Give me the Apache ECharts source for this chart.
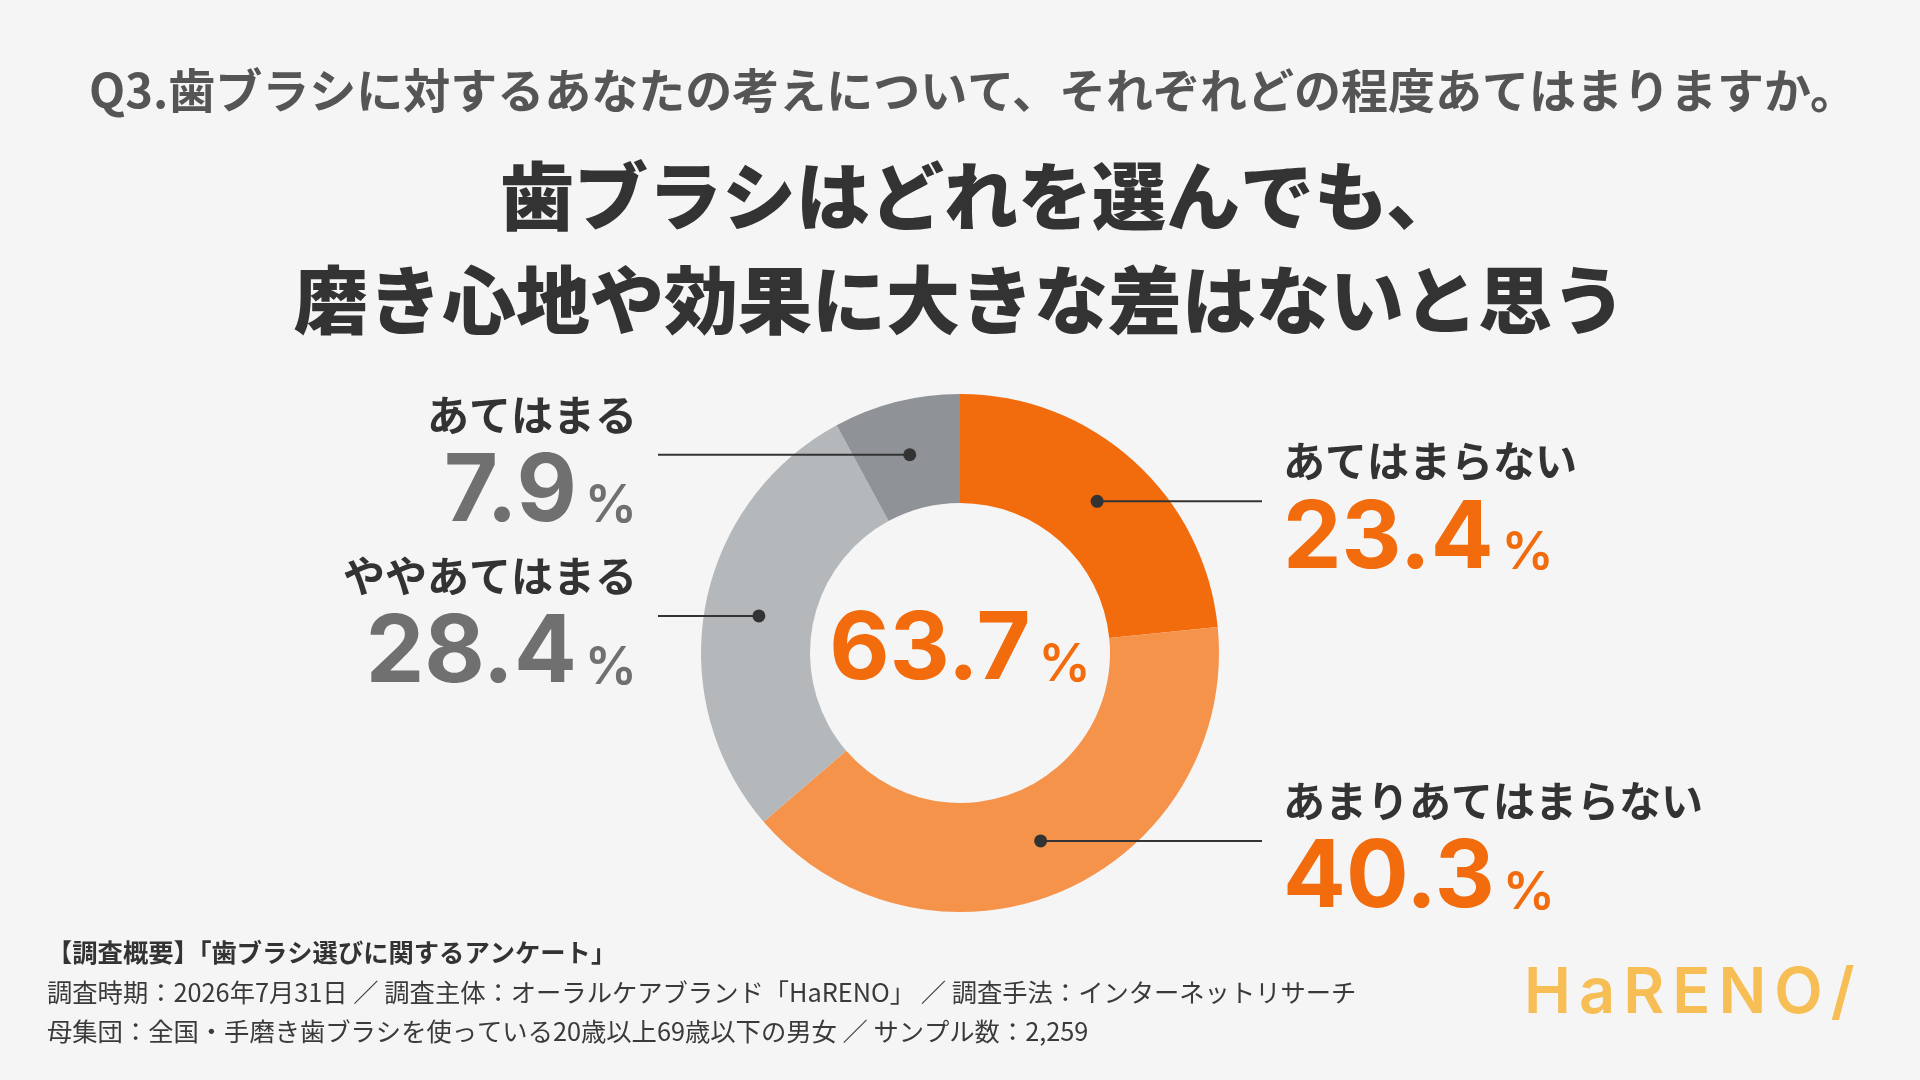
<!DOCTYPE html>
<html lang="ja">
<head>
<meta charset="utf-8">
<title>歯ブラシに対する考え</title>
<script src="https://cdn.jsdelivr.net/npm/echarts@6/dist/echarts.min.js"></script>
<style>
  html, body { margin: 0; padding: 0; background: #f5f5f5; }
  #chart { width: 1920px; height: 1080px; }
</style>
</head>
<body>
<div id="chart"></div>
<script>
// ---------------------------------------------------------------------------
// Data (read off the survey graphic)
// ---------------------------------------------------------------------------

const categories = ['あてはまらない', 'あまりあてはまらない', 'ややあてはまる', 'あてはまる']
const shares = [23.4, 40.3, 28.4, 7.9]

const question = 'Q3.歯ブラシに対するあなたの考えについて、それぞれどの程度あてはまりますか。'
const headline = ['歯ブラシはどれを選んでも、', '磨き心地や効果に大きな差はないと思う']
const notes = [
  '【調査概要】「歯ブラシ選びに関するアンケート」',
  '調査時期：2026年7月31日 ／ 調査主体：オーラルケアブランド「HaRENO」 ／ 調査手法：インターネットリサーチ',
  '母集団：全国・手磨き歯ブラシを使っている20歳以上69歳以下の男女 ／ サンプル数：2,259',
]
const brand = 'HaRENO/'

// ---------------------------------------------------------------------------
// Styles / layout
// ---------------------------------------------------------------------------

const SLICE_COLORS = ['#f26c0e', '#f6934b', '#b5b8bb', '#8f9397']
const VALUE_COLORS = ['#f26c0e', '#f26c0e', '#707070', '#707070']
const ORANGE = '#f26c0e'
const INK = '#333333'
const JP = '"Noto Sans CJK JP", "Noto Sans", sans-serif'
const NUM = 'Inter, "Noto Sans CJK JP", sans-serif'
const LOGO = 'Inter, "DejaVu Sans", sans-serif'

const CENTER = ['50%', 653]
const RING = [150, 259] // inner / outer radius in px

// derived values
const total = shares.reduce((a, b) => a + b, 0)
const disagree = (shares[0] + shares[1]).toFixed(1) // あてはまらない + あまりあてはまらない

// mid point of every slice on the angle axis (callout anchors)
const anchors = []
let acc = 0
shares.forEach((v, i) => {
  anchors.push([(RING[0] + RING[1]) / 2 / RING[1], acc + v / 2, i])
  acc += v
})

function numberRich(color) {
  return {
    n: { fontFamily: NUM, fontSize: 93, fontWeight: 700, lineHeight: 94, fill: color, color: color, verticalAlign: 'bottom' },
    p: { fontFamily: NUM, fontSize: 52, fontWeight: 600, fill: color, color: color, verticalAlign: 'bottom', padding: [0, 0, 7, 8] },
  }
}

// the logo is letter-spaced: one rich token per letter
const brandText = brand.split('').map((ch, i) => (i < brand.length - 1 ? '{c|' : '{e|') + ch + '}').join('')

/** Dot + leader line + label / percentage for one slice. */
function renderCallout(params, api) {
  const i = api.value(2)
  const pt = api.coord([api.value(0), api.value(1)])
  const cs = params.coordSys
  const side = pt[0] < cs.cx ? -1 : 1
  const align = side < 0 ? 'right' : 'left'
  const lineEnd = cs.cx + side * 302
  const textX = cs.cx + side * 323

  return {
    type: 'group',
    children: [
      {
        type: 'line',
        shape: { x1: pt[0], y1: pt[1], x2: lineEnd, y2: pt[1] },
        style: { stroke: INK, lineWidth: 2 },
      },
      {
        type: 'circle',
        shape: { cx: pt[0], cy: pt[1], r: 6.5 },
        style: { fill: INK },
      },
      {
        type: 'text',
        x: textX,
        y: pt[1] - 40,
        style: {
          text: categories[i],
          align: align,
          verticalAlign: 'middle',
          fontFamily: JP,
          fontSize: 42,
          fontWeight: 'bold',
          fill: INK,
        },
      },
      {
        type: 'text',
        x: textX,
        y: pt[1] + 38,
        style: {
          text: '{n|' + shares[i].toFixed(1) + '}{p|%}',
          align: align,
          verticalAlign: 'middle',
          rich: numberRich(VALUE_COLORS[i]),
        },
      },
    ],
  }
}

const chart = echarts.init(document.getElementById('chart'))

const noteStyle = { fontFamily: JP, fontSize: 25.3, fontWeight: 'normal', color: '#3a3a3a' }
const headStyle = { fontFamily: JP, fontSize: 74, fontWeight: 900, lineHeight: 104, color: INK }
const logoStyle = { fontFamily: LOGO, fontSize: 63, fontWeight: 600, color: '#f6be55' }

chart.setOption({
  backgroundColor: '#f5f5f5',
  animation: false,
  title: [
    {
      text: '{q|' + question + '}',
      left: 'center',
      top: 67,
      padding: 0,
      textStyle: {
        rich: {
          q: { fontFamily: JP, fontSize: 47, fontWeight: 'bold', color: '#555555', padding: [0, 0, 0, 26] },
        },
      },
    },
    {
      text: '{a|' + headline[0] + '}\n{b|' + headline[1] + '}',
      left: 'center',
      top: 144,
      padding: 0,
      textStyle: {
        rich: {
          a: Object.assign({}, headStyle, { padding: [0, 0, 0, 40] }),
          b: headStyle,
        },
      },
    },
    {
      text: '{n|' + disagree + '}{p|%}',
      left: 'center',
      top: 604,
      padding: 0,
      textStyle: { rich: numberRich(ORANGE) },
    },
    {
      text: notes[0],
      left: 47,
      top: 940,
      padding: 0,
      textStyle: Object.assign({}, noteStyle, { fontWeight: 'bold', color: INK }),
    },
    {
      text: notes[1],
      left: 47,
      top: 980,
      padding: 0,
      textStyle: noteStyle,
    },
    {
      text: notes[2],
      left: 47,
      top: 1019,
      padding: 0,
      textStyle: noteStyle,
    },
    {
      text: brandText,
      left: 1524,
      top: 963,
      padding: 0,
      textStyle: {
        rich: {
          c: Object.assign({}, logoStyle, { padding: [0, 8, 0, 0] }),
          e: logoStyle,
        },
      },
    },
  ],
  polar: { center: CENTER, radius: RING[1] },
  angleAxis: { type: 'value', min: 0, max: total, startAngle: 90, clockwise: true, show: false },
  radiusAxis: { type: 'value', min: 0, max: 1, show: false },
  series: [
    {
      type: 'pie',
      center: CENTER,
      radius: RING,
      startAngle: 90,
      clockwise: true,
      silent: true,
      label: { show: false },
      labelLine: { show: false },
      itemStyle: { borderWidth: 0 },
      data: categories.map((name, i) => ({
        name: name,
        value: shares[i],
        itemStyle: { color: SLICE_COLORS[i] },
      })),
    },
    {
      type: 'custom',
      coordinateSystem: 'polar',
      silent: true,
      z: 5,
      data: anchors,
      renderItem: renderCallout,
    },
  ],
})
</script>
</body>
</html>
